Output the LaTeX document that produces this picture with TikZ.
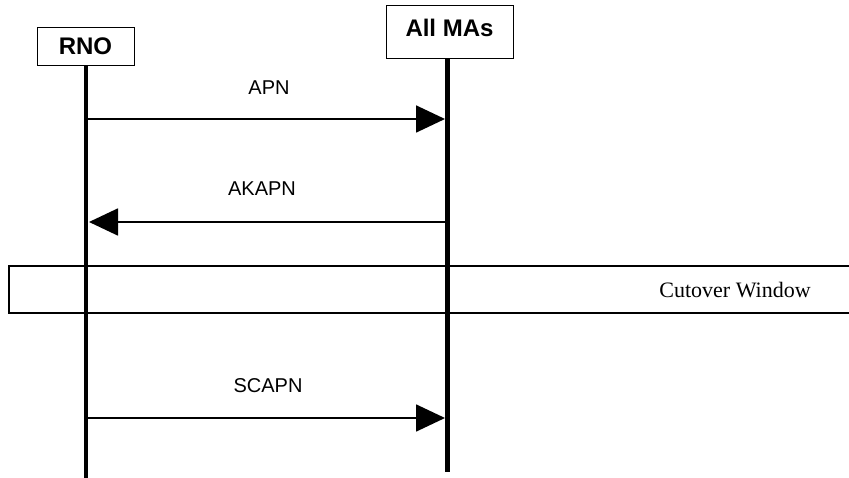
\documentclass[tikz,border=0pt]{standalone}
\usepackage{fontspec}
\setmainfont{Liberation Serif}
\newfontfamily\arialfont{Liberation Sans}
\usetikzlibrary{arrows.meta}
\begin{document}
\begin{tikzpicture}[x=1pt,y=-1pt,
  actor/.style={draw,line width=1pt,inner sep=0pt,font=\arialfont\bfseries\fontsize{24}{26}\selectfont},
  lifeline/.style={line width=4.5pt},
  msg/.style={line width=1.8pt,-{Triangle[length=29pt,width=27pt]}},
  msglabel/.style={font=\arialfont\fontsize{20}{22}\selectfont}]
  \useasboundingbox (0,0) rectangle (849,478);
  % cutover window (runs off the right edge)
  \draw[line width=2.5pt] (860,266) -- (9,266) -- (9,313) -- (860,313);
  \node[font=\fontsize{22}{24}\selectfont] (win) at (735,290) {Cutover Window};
  % actor boxes
  \node[actor,minimum width=97pt,text height=27pt,text depth=11pt] (rno) at (85.5,47) {RNO};
  \node[actor,minimum width=127pt,text height=31pt,text depth=22pt] (mas) at (449.5,32.5) {All MAs};
  % lifelines
  \coordinate (rnoEnd) at (86,478);
  \coordinate (masEnd) at (447.5,472);
  \draw[lifeline] (rno.south -| rnoEnd) -- (rnoEnd);
  \draw[lifeline] (mas.south -| masEnd) -- (masEnd);
  % messages
  \coordinate (a1) at (88,119);  \coordinate (b1) at (445,119);
  \coordinate (a2) at (445,222); \coordinate (b2) at (89,222);
  \coordinate (a3) at (88,418);  \coordinate (b3) at (445,418);
  \draw[msg] (a1) -- (b1);
  \draw[msg] (a2) -- (b2);
  \draw[msg] (a3) -- (b3);
  \node[msglabel] (l1) at (269,88) {APN};
  \node[msglabel] (l2) at (262,189) {AKAPN};
  \node[msglabel] (l3) at (268,386) {SCAPN};
\end{tikzpicture}
\end{document}
